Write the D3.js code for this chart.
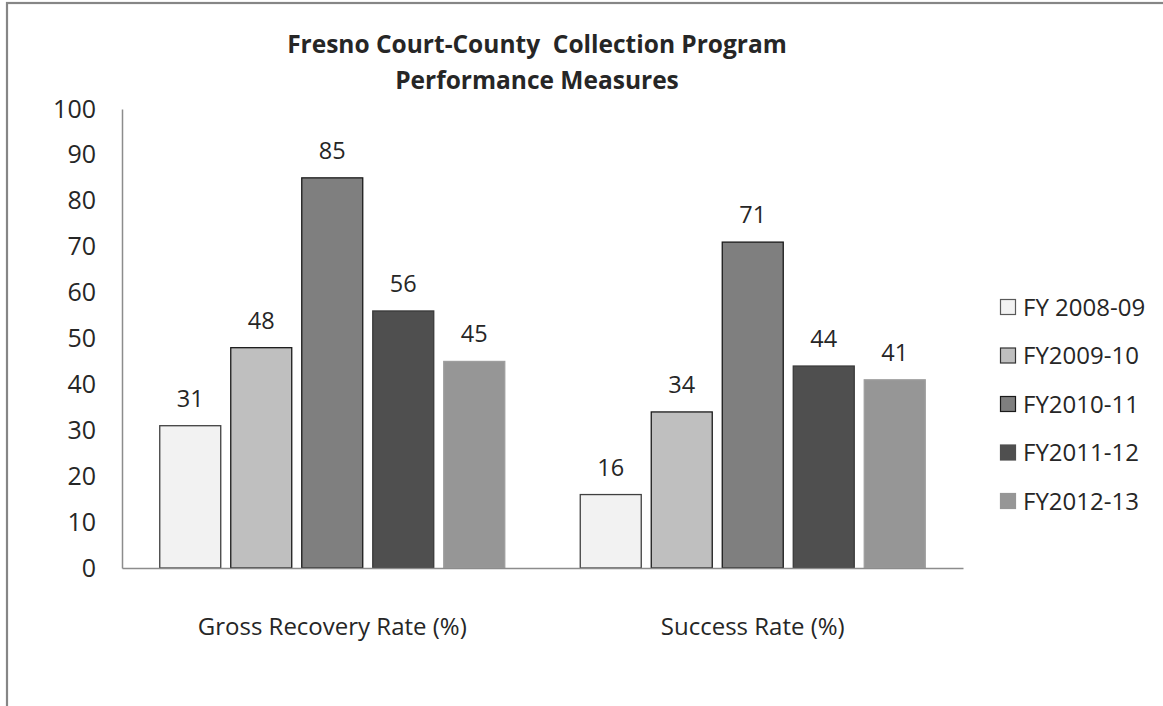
<!DOCTYPE html>
<html>
<head>
<meta charset="utf-8">
<script src="https://cdn.jsdelivr.net/npm/d3@7"></script>
<style>
  body { margin: 0; background: #fff; }
  text { font-family: "Open Sans", Carlito, Calibri, sans-serif; fill: #262626; }
</style>
</head>
<body>
<div class="chart"></div>
<script>
// Fresno collection program chart

var categories = ["Gross Recovery Rate (%)", "Success Rate (%)"];
var seriesNames = ["FY 2008-09", "FY2009-10", "FY2010-11", "FY2011-12", "FY2012-13"];
var grossRecovery = [31, 48, 85, 56, 45];
var successRate = [16, 34, 71, 44, 41];
var yTicks = [0, 10, 20, 30, 40, 50, 60, 70, 80, 90, 100];

var fills = ["#f2f2f2", "#bfbfbf", "#7f7f7f", "#4f4f4f", "#969696"];
var strokes = ["#404040", "#1a1a1a", "#1a1a1a", "#3a3a3a", "#9e9e9e"];
var legendStrokes = ["#595959", "#333333", "#1a1a1a", "#4f4f4f", "#969696"];

var svgWidth = 1163;
var svgHeight = 706;

var plot = { left: 122, right: 963, top: 109, bottom: 568 };

var svg = d3.select(".chart")
    .append("svg")
    .attr("width", svgWidth)
    .attr("height", svgHeight);

// outer frame (runs off the right and bottom)
svg.append("rect")
    .attr("x", 7)
    .attr("y", 3)
    .attr("width", 1300)
    .attr("height", 900)
    .attr("fill", "none")
    .attr("stroke", "#868686")
    .attr("stroke-width", 2.2);

var table = categories.map(function(c, ci) {
    var vals = ci == 0 ? grossRecovery : successRate;
    return { category: c, values: vals.map(function(v, si) { return { series: si, value: v }; }) };
});

var x0 = d3.scaleBand()
    .domain(categories)
    .range([plot.left, plot.right]);

var x1 = d3.scaleBand()
    .domain(d3.range(seriesNames.length))
    .range([37.75, x0.bandwidth() - 37.75])
    .paddingInner(0.141);

var y = d3.scaleLinear()
    .domain([0, 100])
    .range([plot.bottom, plot.top]);

// title
svg.append("text")
    .attr("x", 537)
    .attr("y", 53)
    .attr("text-anchor", "middle")
    .style("font-weight", "bold")
    .style("font-size", "24.5px")
    .style("white-space", "pre")
    .text("Fresno Court-County  Collection Program");

svg.append("text")
    .attr("x", 537)
    .attr("y", 89)
    .attr("text-anchor", "middle")
    .style("font-weight", "bold")
    .style("font-size", "24.5px")
    .text("Performance Measures");

// bars
var groups = svg.selectAll(".group")
    .data(table)
    .enter()
    .append("g")
    .attr("class", "group")
    .attr("transform", function(d) { return "translate(" + x0(d.category) + ",0)"; });

groups.selectAll("rect")
    .data(function(d) { return d.values; })
    .enter()
    .append("rect")
    .attr("x", function(d) { return x1(d.series); })
    .attr("y", function(d) { return y(d.value); })
    .attr("width", x1.bandwidth())
    .attr("height", function(d) { return y(0) - y(d.value); })
    .attr("fill", function(d) { return fills[d.series]; })
    .attr("stroke", function(d) { return strokes[d.series]; })
    .attr("stroke-width", 1.3);

groups.selectAll(".val")
    .data(function(d) { return d.values; })
    .enter()
    .append("text")
    .attr("class", "val")
    .attr("x", function(d) { return x1(d.series) + x1.bandwidth() / 2; })
    .attr("y", function(d) { return y(d.value) - 19; })
    .attr("text-anchor", "middle")
    .style("font-size", "23.5px")
    .text(function(d) { return d.value; });

// axes
var leftAxis = d3.axisLeft(y).tickValues(yTicks).tickSize(0).tickPadding(26);
var yg = svg.append("g")
    .attr("transform", "translate(" + plot.left + ",0)")
    .call(leftAxis);
yg.select(".domain").attr("stroke", "#8c8c8c").attr("stroke-width", 1.5);
yg.selectAll("text").style("font-size", "25px").attr("fill", "#262626");

var bottomAxis = d3.axisBottom(x0).tickSize(0).tickPadding(50);
var xg = svg.append("g")
    .attr("transform", "translate(0," + plot.bottom + ")")
    .call(bottomAxis);
xg.select(".domain").attr("stroke", "#8c8c8c").attr("stroke-width", 1.5);
xg.selectAll("text").style("font-size", "24px").attr("fill", "#262626");

// legend
var legend = svg.selectAll(".legend")
    .data(seriesNames)
    .enter()
    .append("g")
    .attr("class", "legend")
    .attr("transform", function(d, i) { return "translate(1000," + (307 + i * 48.5) + ")"; });

legend.append("rect")
    .attr("x", 0.5)
    .attr("y", -7.5)
    .attr("width", 15)
    .attr("height", 15)
    .attr("fill", function(d, i) { return fills[i]; })
    .attr("stroke", function(d, i) { return legendStrokes[i]; })
    .attr("stroke-width", 1.2);

legend.append("text")
    .attr("x", 23)
    .attr("y", 0)
    .attr("dy", "0.36em")
    .style("font-size", "24px")
    .text(function(d) { return d; });
</script>
</body>
</html>
